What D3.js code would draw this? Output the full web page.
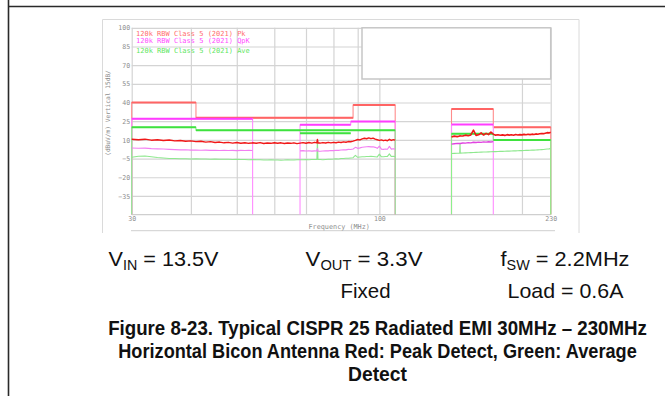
<!DOCTYPE html>
<html><head><meta charset="utf-8">
<script src="https://cdn.jsdelivr.net/npm/d3@7"></script>
<style>
html,body{margin:0;padding:0;background:#fff;}
svg{display:block;}
</style></head>
<body>
<svg id="c" width="665" height="396"></svg>
<script>
// ---------- data ----------
const yTicks = [100, 85, 70, 55, 40, 25, 10, -5, -20, -35];
const xGrid = [40, 50, 60, 70, 80, 90, 100, 200];
const xTickLabels = [30, 100, 230];
const legendLabels = ["120k RBW Class 5 (2021) Pk", "120k RBW Class 5 (2021) QpK", "120k RBW Class 5 (2021) Ave"];

// limit lines (MHz, dBuV/m); null breaks the line, -50 = bottom of plot
const pkLimF = [30, 30, 41, 41, 88, 88, 108, 108, null, 142, 142, 174, 174, 230, 230];
const pkLimV = [-50, 40, 40, 27.7, 27.7, 38, 38, -50, null, -50, 34.8, 34.8, 20.1, 20.1, -50];
const qpLimF = [30, 30, 54, 54, null, 68, 68, 87, 87, 108, 108, null, 142, 142, 174, 174];
const qpLimV = [-50, 26.9, 26.9, -50, null, -50, 22.2, 22.2, 24.8, 24.8, -50, null, -50, 22.4, 22.4, -50];
const avLimF = [30, 30, 41, 41, 108, 108, null, 68, 87, null, 142, 142, 174, 174, 230, 230];
const avLimV = [-50, 20.1, 20.1, 17.7, 17.7, -50, null, 15.3, 15.3, null, -50, 15.0, 15.0, 9.9, 9.9, -50];

// measured traces, band A (30-108 MHz)
const freqA = [30,31,32,33,34,35,36,37,38,39,40,41,42,43,44,45,46,47,48,49,50,51,52,53,54,55,56,57,58,59,60,61,62,63,64,65,66,67,68,69,70,71,72,73,73.8,74,74.2,75,76,77,78,79,80,81,82,83,84,85,86,87,88,89,90,91,92,93,94,95,96,97,98,99,100,101,102,103,104,105,106,107,108];
const peakA = [10.5,10.2,10.6,9.8,10.1,9.5,9.9,9.2,9.5,8.9,9.2,8.6,8.9,8.2,8.6,7.9,8.2,7.6,8.0,7.4,7.9,7.3,7.7,7.2,7.6,7.3,7.8,7.1,7.5,7.2,7.7,7.3,7.6,7.1,7.5,7.2,7.6,7.0,7.4,7.8,7.3,7.9,7.4,8.0,7.6,10.3,7.5,7.4,7.8,7.5,8.0,7.6,8.0,7.7,8.2,7.9,8.4,8.1,8.6,8.5,9.0,9.6,10.3,10.0,10.8,11.3,10.9,11.6,11.0,11.4,10.6,10.1,9.6,10.0,9.4,9.8,9.3,10.4,9.6,10.2,9.8];
const qpA = [3.5,3.3,3.4,3.0,2.8,2.7,2.4,2.2,2.0,2.1,1.8,1.9,1.7,1.8,1.6,1.7,1.5,1.7,1.5,1.6,1.4,1.6,1.5,1.6,1.5,null,null,null,null,null,null,null,null,null,null,null,null,null,1.2,1.4,1.1,1.3,1.0,1.2,1.1,3.0,1.0,0.9,1.1,1.3,1.2,1.5,1.4,1.7,1.6,1.9,2.1,2.0,2.4,2.3,2.7,4.0,3.2,3.6,4.1,4.3,4.5,4.6,4.4,4.5,4.0,3.2,5.0,2.6,2.4,2.7,2.5,4.8,2.6,2.9,2.7];
const avgA = [-4.0,-3.2,-3.0,-3.6,-4.2,-4.6,-4.9,-5.0,-5.2,-5.1,-5.3,-5.2,-5.4,-5.3,-5.5,-5.4,-5.5,-5.6,-5.5,-5.7,-5.6,-5.8,-5.7,-5.9,-5.8,-6.0,-5.9,-6.1,-6.2,-6.0,-6.2,-6.1,-6.3,-6.2,-6.0,-6.1,-6.2,-6.0,-5.9,-6.0,-5.8,-5.9,-5.7,-5.8,-5.8,9.5,-5.8,-5.8,-5.9,-5.7,-5.6,-5.5,-5.4,-5.2,-5.3,-5.0,-4.9,-4.7,-4.8,-4.5,-4.3,-2.5,-4.0,-3.8,-3.6,-3.5,-3.3,-3.4,-3.2,-3.3,-3.5,-3.7,-1.5,-3.6,-3.5,-3.4,-3.3,-1.2,-3.4,-3.2,-3.3];

// measured traces, band B (142-230 MHz)
const freqB = [142,144,146,147.8,148,148.2,150,152,154,156,158,160,162,164,166,168,170,172,174,176,178,180,182,184,186,188,190,192,194,196,198,200,202,204,206,208,210,212,214,216,218,220,222,224,226,228,230];
const peakB = [12.4,13.0,12.6,13.2,13.4,13.3,13.1,13.8,13.3,14.0,17.8,13.6,14.1,15.6,13.9,15.2,14.2,16.3,14.5,13.8,14.1,13.7,14.0,13.6,14.2,13.8,14.1,13.7,14.3,13.9,14.2,14.0,14.4,14.1,14.5,14.2,14.6,14.3,14.8,14.5,14.9,15.1,15.0,15.4,15.8,15.6,16.1];
const qpB = [6.6,6.9,7.2,7.1,7.0,7.1,7.5,7.4,7.8,7.6,8.1,7.9,8.2,8.0,8.4,8.2,8.5,8.3,8.6,null,null,null,null,null,null,null,null,null,null,null,null,null,null,null,null,null,null,null,null,null,null,null,null,null,null,null,null];
const avgB = [-0.9,-0.8,-0.7,-0.6,7.0,-0.6,-0.5,-0.4,-0.3,-0.2,-0.1,0.0,0.1,0.2,0.3,0.3,0.4,0.5,0.6,0.6,0.7,0.8,0.8,0.9,1.0,1.0,1.1,1.2,1.2,1.3,1.4,1.4,1.5,1.6,1.6,1.7,1.8,1.8,1.9,2.0,2.1,2.2,2.3,2.5,2.7,2.8,3.0];

// ---------- drawing ----------
const svg = d3.select("#c");
const mono = "'DejaVu Sans Mono', 'Liberation Mono', monospace";
const gridCol = "#d4d4d4";
const labCol = "#8e8e8e";

// page rules
svg.append("line").attr("x1", 8.5).attr("x2", 8.5).attr("y1", 0).attr("y2", 396)
  .attr("stroke", "#2a2a2a").attr("stroke-width", 1.6);
svg.append("line").attr("x1", 8).attr("x2", 665).attr("y1", 6.5).attr("y2", 6.5)
  .attr("stroke", "#2a2a2a").attr("stroke-width", 1.6);

// image frame
svg.append("path").attr("d", "M102.5,233V19.5H579V233").attr("fill", "none")
  .attr("stroke", "#dadada").attr("stroke-width", 1);

const x = d3.scaleLog().domain([30, 230]).range([131.7, 550.7]);
const y = d3.scaleLinear().domain([-50, 100]).range([214.6, 27.8]);
const W = x.range()[1] - x.range()[0];
const H = y.range()[0] - y.range()[1];

const g = svg.append("g");

// horizontal grid + y labels
const ya = g.append("g").attr("transform", `translate(${x.range()[0]},0)`)
  .call(d3.axisLeft(y).tickValues(yTicks).tickSize(-W).tickPadding(2).tickFormat(d3.format("d")));
ya.select(".domain").remove();
ya.selectAll("line").attr("stroke", gridCol).attr("stroke-width", 1.2);
ya.selectAll("text").attr("fill", labCol).attr("font-family", mono).attr("font-size", 6.6).attr("x", -1.5);

// vertical grid
const xg = g.append("g").attr("transform", `translate(0,${y.range()[0]})`)
  .call(d3.axisBottom(x).tickValues(xGrid.concat([30, 230])).tickSize(-H).tickFormat(""));
xg.select(".domain").remove();
xg.selectAll("line").attr("stroke", gridCol).attr("stroke-width", 1.2);

// bottom axis line + x labels
g.append("line").attr("x1", x(30)).attr("x2", x(230)).attr("y1", y(-50)).attr("y2", y(-50))
  .attr("stroke", "#cfcfcf").attr("stroke-width", 1.2);
const xa = g.append("g").attr("transform", `translate(0,${y.range()[0]})`)
  .call(d3.axisBottom(x).tickValues(xTickLabels).tickSize(0).tickPadding(2).tickFormat(d3.format("d")));
xa.select(".domain").remove();
xa.selectAll("text").attr("fill", labCol).attr("font-family", mono).attr("font-size", 6.6);

// line below x axis title
svg.append("line").attr("x1", 131).attr("x2", 555).attr("y1", 230.7).attr("y2", 230.7)
  .attr("stroke", "#cfcfcf").attr("stroke-width", 1);

// axis titles
svg.append("text").attr("x", x(Math.sqrt(30 * 230)) - 2).attr("y", 228.5).attr("text-anchor", "middle")
  .attr("font-family", mono).attr("font-size", 6.8).attr("fill", labCol).text("Frequency (MHz)");
svg.append("text").attr("transform", "translate(109.5,113) rotate(-90)").attr("text-anchor", "middle")
  .attr("font-family", mono).attr("font-size", 6.2).attr("fill", labCol).text("(dBuV/m) Vertical 15dB/");

// top right box
svg.append("rect").attr("x", 362).attr("y", y(100)).attr("width", x(230) - 362).attr("height", 79 - y(100))
  .attr("fill", "#fff").attr("stroke", "#c6c6c6").attr("stroke-width", 1.5);

// legend text
const legCols = ["#ff6e6e", "#ff4dff", "#5fe65f"];
const legY = [36, 43, 52.5];
svg.selectAll(".leg").data(legendLabels).enter().append("text")
  .attr("x", 136).attr("y", (d, i) => legY[i]).attr("font-family", mono).attr("font-size", 7)
  .attr("fill", (d, i) => legCols[i]).text(d => d);

// limit lines
function drawLimit(F, V, col, colV) {
  const pts = F.map((f, i) => ({ f, v: V[i] }));
  const line = d3.line().defined(d => d.f != null).x(d => x(d.f)).y(d => y(d.v));
  g.append("path").attr("d", line(pts)).attr("fill", "none").attr("stroke", colV).attr("stroke-width", 1.1);
  const segs = [];
  for (let i = 0; i < pts.length - 1; i++) {
    const a = pts[i], b = pts[i + 1];
    if (a.f != null && b.f != null && a.v === b.v && a.v > -50) segs.push([a, b]);
  }
  g.selectAll(null).data(segs).enter().append("line")
    .attr("x1", d => x(d[0].f)).attr("x2", d => x(d[1].f))
    .attr("y1", d => y(d[0].v)).attr("y2", d => y(d[1].v))
    .attr("stroke", col).attr("stroke-width", 2);
}
drawLimit(pkLimF, pkLimV, "#ff6464", "#ff8c8c");
drawLimit(qpLimF, qpLimV, "#ff3cff", "#ff8cff");
drawLimit(avLimF, avLimV, "#3ee23e", "#8cf08c");

// traces
function drawTrace(F, V, col, w) {
  const pts = F.map((f, i) => ({ f, v: V[i] }));
  const line = d3.line().defined(d => d.v != null).x(d => x(d.f)).y(d => y(d.v));
  g.append("path").attr("d", line(pts)).attr("fill", "none").attr("stroke", col)
    .attr("stroke-width", w).attr("stroke-linejoin", "round");
}
drawTrace(freqA, avgA, "#8fe88f", 1.1);
drawTrace(freqB, avgB, "#8fe88f", 1.1);
drawTrace(freqA, qpA, "#f27ff2", 1.1);
drawTrace(freqB, qpB, "#e046e0", 1.4);
drawTrace(freqA, peakA, "#f01818", 1.5);
drawTrace(freqB, peakB, "#f01818", 1.6);

// ---------- text below the chart ----------
const sans = "'Liberation Sans', Arial, Helvetica, sans-serif";
function fitText(parts, cx, base, targetW, fs, weight) {
  const t = svg.append("text").attr("font-family", sans).attr("font-size", fs)
    .attr("font-weight", weight).attr("fill", "#111").attr("text-anchor", "middle");
  parts.forEach(p => {
    const ts = t.append("tspan").text(p[0]);
    if (p[1] === "sub") ts.attr("font-size", fs * 0.66).attr("dy", fs * 0.2);
    if (p[1] === "back") ts.attr("dy", -fs * 0.2);
  });
  const w = t.node().getComputedTextLength();
  t.attr("transform", `translate(${cx},${base}) scale(${targetW / w},1)`);
}
fitText([["V"], ["IN", "sub"], [" = 13.5V", "back"]], 163.5, 265.5, 110, 21, "normal");
fitText([["V"], ["OUT", "sub"], [" = 3.3V", "back"]], 364, 265.5, 117, 21, "normal");
fitText([["f"], ["SW", "sub"], [" = 2.2MHz", "back"]], 565, 265.5, 129, 21, "normal");
fitText([["Fixed"]], 365.5, 297.5, 50, 21, "normal");
fitText([["Load = 0.6A"]], 565.5, 297.5, 116, 21, "normal");
fitText([["Figure 8-23. Typical CISPR 25 Radiated EMI 30MHz \u2013 230MHz"]], 377.5, 335, 539, 19.5, "bold");
fitText([["Horizontal Bicon Antenna Red: Peak Detect, Green: Average"]], 377.5, 358, 519, 19.5, "bold");
fitText([["Detect"]], 377.5, 381, 59, 19.5, "bold");
</script>
</body></html>
